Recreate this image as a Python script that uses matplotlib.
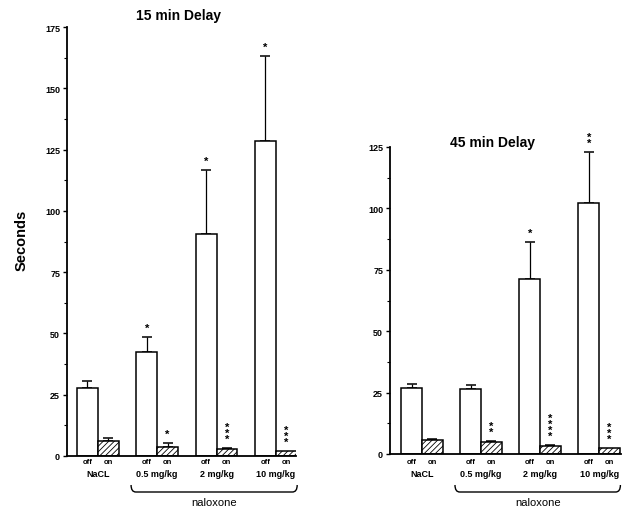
import numpy as np
import matplotlib.pyplot as plt
import matplotlib.transforms as mtransforms
from matplotlib.path import Path
from matplotlib.patches import PathPatch

# data (seconds)
groups = ['NaCL', '0.5 mg/kg', '2 mg/kg', '10 mg/kg']
off_15 = [27.8, 42.4, 90.6, 128.6]
off_15_err = [2.8, 6.2, 26.1, 34.7]
on_15 = [6.1, 3.7, 2.9, 2.0]
on_15_err = [1.2, 1.6, 0.4, 0.0]
stars_off_15 = [0, 1, 1, 1]
stars_on_15 = [0, 1, 3, 3]

off_45 = [26.8, 26.4, 71.1, 102.0]
off_45_err = [1.7, 1.7, 15.1, 20.8]
on_45 = [5.7, 4.9, 3.3, 2.4]
on_45_err = [0.5, 0.5, 0.4, 0.0]
stars_off_45 = [0, 0, 1, 2]
stars_on_45 = [0, 2, 4, 3]

plt.rcParams['font.family'] = ['Liberation Sans', 'DejaVu Sans']
plt.rcParams['hatch.linewidth'] = 0.6

fig = plt.figure(figsize=(6.36, 5.1), dpi=100)
W, H = 636.0, 510.0


def fy(py):
    return 1 - py / H


def panel(rect, ymax, off, off_err, on, on_err, s_off, s_on, xlim, title, title_xy):
    ax = fig.add_axes(rect)
    x = np.arange(len(groups))
    w = 0.35
    ax.bar(x - w / 2, off, w, color='white', edgecolor='black', lw=1.1, zorder=2)
    ax.bar(x + w / 2, on, w, color='white', edgecolor='black', lw=1.1,
           hatch='//////', zorder=2)
    for xi, v, e in zip(x - w / 2, off, off_err):
        if e > 0:
            ax.errorbar(xi, v, yerr=[[0], [e]], fmt='none', ecolor='black',
                        elinewidth=0.9, capsize=3.5, capthick=1.1, zorder=1)
    for xi, v, e in zip(x + w / 2, on, on_err):
        if e > 0:
            ax.errorbar(xi, v, yerr=[[0], [e]], fmt='none', ecolor='black',
                        elinewidth=0.9, capsize=3.5, capthick=1.1, zorder=1)
    # asterisks
    for xi, v, e, n in list(zip(x - w / 2, off, off_err, s_off)) + list(zip(x + w / 2, on, on_err, s_on)):
        if n:
            ax.annotate('\n'.join(['*'] * n), (xi, v + e), xytext=(0, 3),
                        textcoords='offset points', ha='center', va='bottom',
                        fontsize=8, fontweight='bold', linespacing=0.5)
    ax.set_xlim(*xlim)
    ax.set_ylim(0, ymax)
    ax.set_yticks(np.arange(0, ymax + 1, 25))
    ax.set_yticks(np.arange(12.5, ymax, 25), minor=True)
    ax.tick_params(axis='y', labelsize=6.5, width=1, length=3, pad=2)
    ax.tick_params(axis='y', which='minor', length=2, width=0.8)
    for t in ax.get_yticklabels():
        t.set_fontweight('bold')
    ax.set_xticks([])
    ax.spines[['top', 'right']].set_visible(False)
    ax.spines['left'].set_linewidth(1.3)
    ax.spines['bottom'].set_linewidth(1.3)

    tr = mtransforms.blended_transform_factory(ax.transData, fig.transFigure)
    for xi in x:
        ax.text(xi - w / 2, fy(463), 'off', transform=tr, ha='center', va='center',
                fontsize=5.5, fontweight='bold')
        ax.text(xi + w / 2, fy(463), 'on', transform=tr, ha='center', va='center',
                fontsize=5.5, fontweight='bold')
        ax.text(xi, fy(475), groups[xi], transform=tr, ha='center', va='center',
                fontsize=6.5, fontweight='bold')
    # naloxone bracket
    x0, x1 = 1 - 0.44, 3 + 0.36
    ytop, ybot = fy(486), fy(493)
    d = 0.08
    verts = [(x0, ytop), (x0, ybot), (x0 + d, ybot), (x1 - d, ybot), (x1, ybot), (x1, ytop)]
    codes = [Path.MOVETO, Path.CURVE3, Path.CURVE3, Path.LINETO, Path.CURVE3, Path.CURVE3]
    ax.add_patch(PathPatch(Path(verts, codes), transform=tr, fill=False, lw=1.0,
                           clip_on=False))
    ax.text((x0 + x1) / 2, fy(503), 'naloxone', transform=tr, ha='center', va='center',
            fontsize=8)
    fig.text(title_xy[0] / W, fy(title_xy[1]), title, ha='center', va='center',
             fontsize=10, fontweight='bold')
    return ax


panel([67 / W, fy(457), 229 / W, 429 / H], 175, off_15, off_15_err, on_15, on_15_err,
      stars_off_15, stars_on_15, (-0.52, 3.34), '15 min Delay', (179, 16))
panel([390 / W, fy(455), 231 / W, 307 / H], 125, off_45, off_45_err, on_45, on_45_err,
      stars_off_45, stars_on_45, (-0.54, 3.37), '45 min Delay', (493, 143))

fig.text(22 / W, fy(240), 'Seconds', rotation=90, ha='center', va='center', fontsize=10.5,
         fontweight='bold')

fig.savefig('out.png', dpi=100)
